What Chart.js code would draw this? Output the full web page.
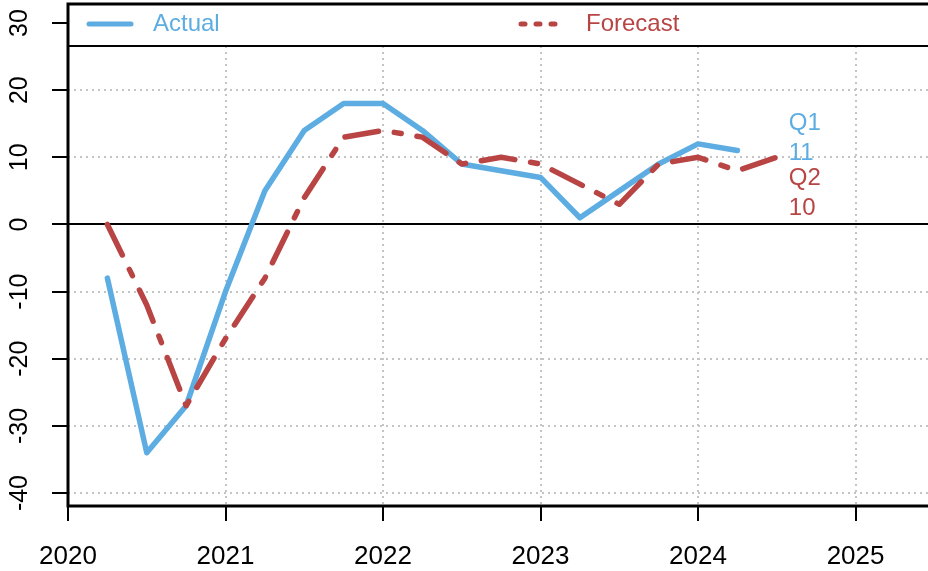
<!DOCTYPE html>
<html><head><meta charset="utf-8">
<script src="https://cdn.jsdelivr.net/npm/chart.js@4/dist/chart.umd.min.js"></script>
<style>html,body{margin:0;padding:0;background:#fff;overflow:hidden}</style>
</head><body>
<canvas id="c" width="928" height="571"></canvas>
<script>
// ---- data ----
const quarters = [2020.25, 2020.5, 2020.75, 2021.0, 2021.25, 2021.5, 2021.75, 2022.0, 2022.25,
                  2022.5, 2022.75, 2023.0, 2023.25, 2023.5, 2023.75, 2024.0, 2024.25, 2024.5];
const actual   = [-8, -34, -27, -10, 5, 14, 18, 18, 14, 9, 8, 7, 1, 5, 9, 12, 11, null];
const forecast = [0, -12, -27, -17, -8, 4, 13, 14, 13, 9, 10, 9, 6, 3, 9, 10, 8, 10];
const seriesNames = ["Actual", "Forecast"];
const latestLabels = ["Q1", "Q2"];
const xTicks = [2020, 2021, 2022, 2023, 2024, 2025];
const yTicks = [-40, -30, -20, -10, 0, 10, 20, 30];
const xRange = [2020, 2025.46];
const yRange = [-41.93, 32.83];

const BLUE = '#5DADE2', RED = '#B84444';
const FONT = "'Liberation Sans', Arial, sans-serif";

function pts(vals){ return quarters.map((q,i)=>({x:q,y:vals[i]})).filter(p=>p.y!==null); }
function lastVal(vals){ for(let i=vals.length-1;i>=0;i--) if(vals[i]!==null) return vals[i]; return null; }

const decor = {
  id: 'decor',
  beforeDatasetsDraw(chart){
    const {ctx, chartArea:a, scales:{y}} = chart;
    ctx.save();
    ctx.strokeStyle = '#000'; ctx.lineWidth = 2; ctx.setLineDash([]);
    const y0 = Math.round(y.getPixelForValue(0));
    ctx.beginPath(); ctx.moveTo(a.left, y0); ctx.lineTo(a.right, y0); ctx.stroke();
    ctx.restore();
  },
  afterDatasetsDraw(chart){
    const {ctx, chartArea:a, scales:{x, y}} = chart;
    ctx.save();
    ctx.setLineDash([]);
    // legend box
    const lb = 46;
    ctx.fillStyle = '#fff';
    ctx.fillRect(a.left, a.top, a.right - a.left, lb - a.top);
    ctx.strokeStyle = '#000'; ctx.lineWidth = 2;
    ctx.beginPath(); ctx.moveTo(a.left, lb); ctx.lineTo(a.right, lb); ctx.stroke();
    // axes frame
    ctx.lineWidth = 3;
    ctx.beginPath();
    ctx.moveTo(a.left, a.bottom); ctx.lineTo(a.right, a.bottom);
    ctx.moveTo(a.left, a.bottom + 1.5); ctx.lineTo(a.left, a.top - 1.5);
    ctx.moveTo(a.left, a.top); ctx.lineTo(a.right, a.top);
    ctx.stroke();
    // legend entries
    const ly = 24;
    ctx.lineCap = 'round';
    ctx.lineWidth = 5;
    ctx.strokeStyle = BLUE;
    ctx.beginPath(); ctx.moveTo(89, ly); ctx.lineTo(131, ly); ctx.stroke();
    ctx.strokeStyle = RED;
    ctx.setLineDash([4, 11]);
    ctx.beginPath(); ctx.moveTo(521, ly); ctx.lineTo(558, ly); ctx.stroke();
    ctx.setLineDash([]);
    ctx.font = '24px ' + FONT;
    ctx.textBaseline = 'middle'; ctx.textAlign = 'left';
    ctx.fillStyle = BLUE; ctx.fillText(seriesNames[0], 153, ly);
    ctx.fillStyle = RED;  ctx.fillText(seriesNames[1], 586, ly);
    // latest value labels
    const lx = x.getPixelForValue(quarters[quarters.length-1]) + 12;
    const la = lastVal(actual), lf = lastVal(forecast);
    const ay = y.getPixelForValue(la) + 3;
    ctx.font = '24px ' + FONT;
    ctx.fillStyle = BLUE;
    ctx.fillText(latestLabels[0], lx, ay - 30);
    ctx.fillText(String(la), lx, ay);
    ctx.fillStyle = RED;
    ctx.fillText(latestLabels[1], lx, ay + 25);
    ctx.fillText(String(lf), lx, ay + 55);
    // y tick labels (rotated, R style)
    ctx.font = '25px ' + FONT;
    ctx.fillStyle = '#000';
    ctx.textAlign = 'center'; ctx.textBaseline = 'middle';
    yTicks.forEach(v => {
      const py = y.getPixelForValue(v);
      ctx.save(); ctx.translate(20, py); ctx.rotate(-Math.PI/2);
      ctx.fillText(String(v), 0, 0); ctx.restore();
    });
    ctx.restore();
  }
};

new Chart(document.getElementById('c'), {
  type: 'line',
  data: {
    datasets: [
      { label: seriesNames[0], data: pts(actual), borderColor: BLUE, borderWidth: 5.5,
        pointRadius: 0, tension: 0, borderCapStyle: 'round', borderJoinStyle: 'round', order: 1 },
      { label: seriesNames[1], data: pts(forecast), borderColor: RED, borderWidth: 5.5,
        pointRadius: 0, tension: 0, borderDash: [34, 16, 7, 16], borderCapStyle: 'round',
        borderJoinStyle: 'round', order: 0 }
    ]
  },
  options: {
    responsive: false, animation: false, devicePixelRatio: 1,
    layout: { padding: { top: 4, right: 0, left: 0, bottom: 0 } },
    plugins: { legend: { display: false }, tooltip: { enabled: false }, title: { display: false } },
    scales: {
      x: {
        type: 'linear', min: xRange[0], max: xRange[1],
        afterBuildTicks: s => { s.ticks = xTicks.map(v => ({ value: v })); },
        afterFit: s => { s.height = 65; },
        grid: { color: '#c4c4c4', lineWidth: 2, drawTicks: true, tickLength: 15,
                tickColor: '#000', tickWidth: 2, tickBorderDash: [] },
        border: { display: false, dash: [2, 4] },
        ticks: { callback: v => String(v), color: '#000', padding: 20, maxRotation: 0, autoSkip: false,
                 font: { family: FONT, size: 26 } }
      },
      y: {
        type: 'linear', min: yRange[0], max: yRange[1],
        afterBuildTicks: s => { s.ticks = yTicks.map(v => ({ value: v })); },
        afterFit: s => { s.width = 68; },
        grid: { color: c => (c.tick && c.tick.value === 0) ? 'rgba(0,0,0,0)' : '#c4c4c4',
                lineWidth: 2, drawTicks: true, tickLength: 16,
                tickColor: '#000', tickWidth: 2, tickBorderDash: [] },
        border: { display: false, dash: [2, 4] },
        ticks: { display: false }
      }
    }
  },
  plugins: [decor]
});
</script>
</body></html>
